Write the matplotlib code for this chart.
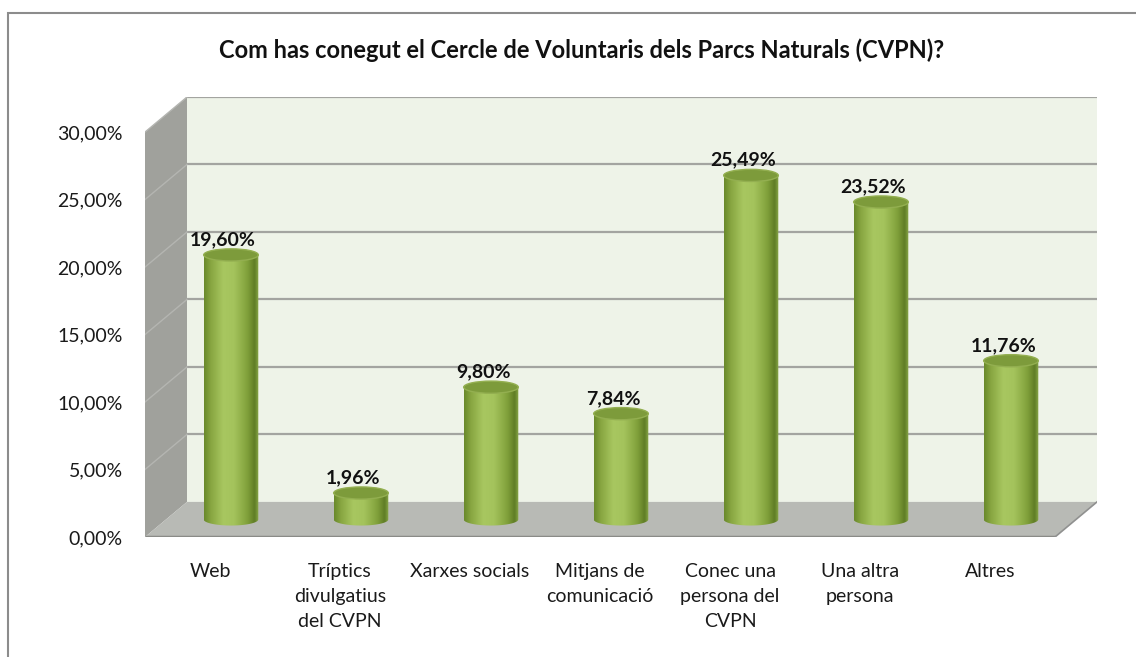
import numpy as np
import matplotlib.pyplot as plt
from matplotlib.patches import Polygon, Ellipse, Rectangle
from matplotlib.colors import LinearSegmentedColormap

plt.rcParams['font.family'] = ['Lato', 'DejaVu Sans']

# Dades
categories = ['Web', 'Tríptics\ndivulgatius\ndel CVPN', 'Xarxes socials',
              'Mitjans de\ncomunicació', 'Conec una\npersona del\nCVPN',
              'Una altra\npersona', 'Altres']
values = [19.60, 1.96, 9.80, 7.84, 25.49, 23.52, 11.76]
labels = ['19,60%', '1,96%', '9,80%', '7,84%', '25,49%', '23,52%', '11,76%']
yticks = [0, 5, 10, 15, 20, 25, 30]
ytick_labels = ['0,00%', '5,00%', '10,00%', '15,00%', '20,00%', '25,00%', '30,00%']
title = 'Com has conegut el Cercle de Voluntaris dels Parcs Naturals (CVPN)?'

W, H = 1136, 657
fig = plt.figure(figsize=(W / 100, H / 100), dpi=100)

# marc del gràfic (només es veuen la vora superior i l'esquerra)
fig.add_artist(Rectangle((8 / W, -0.05), 1.2, (H - 13) / H + 0.05,
                         transform=fig.transFigure, fill=False,
                         edgecolor='#8c8c8c', linewidth=1.5))

# eixos col·locats en píxels
left, right, bottom, top = 145, 1097, 537, 97
ax = fig.add_axes([left / W, (H - bottom) / H, (right - left) / W, (bottom - top) / H])

n = len(values)
Dx, Dy = 0.323, 2.6   # profunditat de la perspectiva
for s in ax.spines.values():
    s.set_visible(False)

# parets
x0, x1 = -0.5, n - 0.5
ax.add_patch(Polygon([(x0 + Dx, Dy), (x1 + Dx, Dy), (x1 + Dx, 30 + Dy), (x0 + Dx, 30 + Dy)],
                     closed=True, facecolor='#eef3e8', edgecolor='none', zorder=0))
ax.add_patch(Polygon([(x0, 0), (x0 + Dx, Dy), (x0 + Dx, 30 + Dy), (x0, 30)],
                     closed=True, facecolor='#a0a19c', edgecolor='none', zorder=0))
ax.add_patch(Polygon([(x0, 0), (x1, 0), (x1 + Dx, Dy), (x0 + Dx, Dy)],
                     closed=True, facecolor='#b8bab5', edgecolor='none', zorder=1))
ax.plot([x0, x1], [0, 0], color='#8a8b87', lw=2.5, zorder=2, solid_capstyle='butt')
ax.plot([x1, x1 + Dx], [0, Dy], color='#909190', lw=1.2, zorder=2)

# línies de la quadrícula
for g in yticks[1:]:
    ax.plot([x0 + Dx, x1 + Dx], [g + Dy, g + Dy], color='#a3a4a0', lw=1.6, zorder=1)
    ax.plot([x0, x0 + Dx], [g, g + Dy], color='#b4b5b1', lw=1.0, zorder=1)

ax.set_yticks(yticks)
ax.set_yticklabels(ytick_labels)
ax.set_xticks(range(n))
ax.set_xticklabels(categories, multialignment='center', linespacing=1.55)
ax.tick_params(axis='both', length=0, labelsize=14, colors='#1a1a1a')
ax.tick_params(axis='y', pad=16)
ax.tick_params(axis='x', pad=19)

# cilindres
cmap = LinearSegmentedColormap.from_list('cil', [
    (0.0, '#6a8a2c'), (0.12, '#88a641'), (0.35, '#a8c760'), (0.55, '#a4c35c'),
    (0.8, '#80a03a'), (0.93, '#5f7c25'), (1.0, '#8aa94a')])
grad = cmap(np.linspace(0, 1, 64))[np.newaxis, :, :]
w = 0.42
eh = 0.9
for i, v in enumerate(values):
    cx = i + Dx / 2
    yb = Dy / 2
    yt = v + Dy / 2
    t = np.linspace(np.pi, 2 * np.pi, 40)
    pts = [(cx - w / 2, yt)] + [(cx + w / 2 * np.cos(a), yb + eh / 2 * np.sin(a)) for a in t] + [(cx + w / 2, yt)]
    clip = Polygon(pts, closed=True, transform=ax.transData)
    im = ax.imshow(grad, extent=[cx - w / 2, cx + w / 2, yb - eh / 2, yt],
                   aspect='auto', zorder=3, interpolation='bilinear')
    im.set_clip_path(clip)
    ax.add_patch(Ellipse((cx, yt), w, eh, facecolor='#7d9b3b', edgecolor='#93af50',
                         linewidth=1.0, zorder=4))
    ax.text(cx - 0.06, yt + eh / 2 + 0.05, labels[i], ha='center', va='bottom',
            fontsize=14, fontweight='bold', color='#111111', zorder=5)

ax.set_xlim(-0.5, n - 0.5 + Dx)
ax.set_ylim(0, 30 + Dy)

fig.text(582 / W, 1 - 50 / H, title, ha='center', va='center',
         fontsize=17, fontweight='bold', color='#111111')

fig.savefig('out.png', dpi=100, facecolor='white')
